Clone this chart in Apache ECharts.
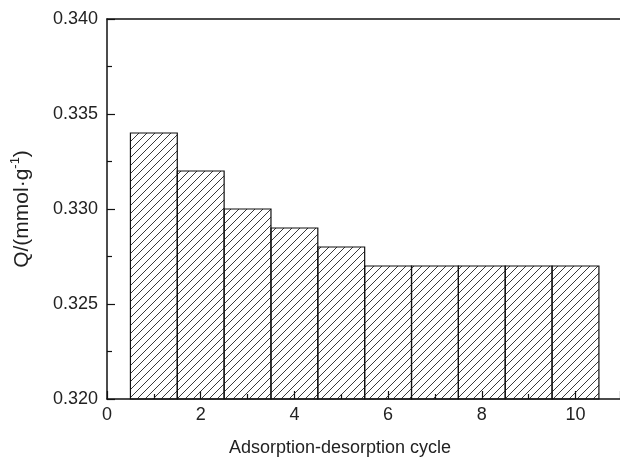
<!DOCTYPE html>
<html>
<head>
<meta charset="utf-8">
<script src="https://cdn.jsdelivr.net/npm/echarts@6/dist/echarts.min.js"></script>
<style>
html,body{margin:0;padding:0;background:#fff;}
#chart{width:620px;height:462px;}
</style>
</head>
<body>
<div id="chart"></div>
<script>
// Data
var cycles = [1, 2, 3, 4, 5, 6, 7, 8, 9, 10];
var capacity = [0.334, 0.332, 0.330, 0.329, 0.328, 0.327, 0.327, 0.327, 0.327, 0.327];
var yTicks = ['0.320', '0.325', '0.330', '0.335', '0.340'];
var xTicks = ['0', '2', '4', '6', '8', '10'];

// Hatch pattern tile
var tile = document.createElement('canvas');
tile.width = 8; tile.height = 8;
var c = tile.getContext('2d');
c.strokeStyle = '#222';
c.lineWidth = 0.9;
c.beginPath();
c.moveTo(0, 8); c.lineTo(8, 0);
c.moveTo(-1, 1); c.lineTo(1, -1);
c.moveTo(7, 9); c.lineTo(9, 7);
c.stroke();

var chart = echarts.init(document.getElementById('chart'), null, {renderer: 'canvas'});
var font = 'Liberation Sans, Arial, Helvetica, sans-serif';
var txt = '#222';

var option = {
  backgroundColor: '#fff',
  animation: false,
  grid: {left: 107, top: 19, right: 0, bottom: 59},
  xAxis: [{
    type: 'value', min: 0, max: 10.95, interval: 2,
    position: 'bottom',
    axisLine: {show: true, lineStyle: {color: '#111', width: 1.5}},
    axisTick: {show: true, inside: true, length: 8, lineStyle: {color: '#111', width: 1.2}},
    minorTick: {show: true, splitNumber: 2, length: 5, lineStyle: {color: '#111', width: 1.2}},
    splitLine: {show: false},
    axisLabel: {
      margin: 7, color: txt, fontFamily: font, fontSize: 18, showMaxLabel: false,
      formatter: function (v) { var s = String(v); return xTicks.indexOf(s) >= 0 ? s : ''; }
    },
    name: 'Adsorption-desorption cycle',
    nameLocation: 'middle', nameGap: 40,
    nameTextStyle: {color: txt, fontFamily: font, fontSize: 18, padding: [0, 0, 0, -47]}
  }, {
    type: 'value', min: 0, max: 10.95, position: 'top',
    axisLine: {show: true, lineStyle: {color: '#111', width: 1.5}},
    axisTick: {show: false}, axisLabel: {show: false}, splitLine: {show: false}
  }],
  yAxis: [{
    type: 'value', min: 0.320, max: 0.340, interval: 0.005,
    axisLine: {show: true, lineStyle: {color: '#111', width: 1.5}},
    axisTick: {show: true, inside: true, length: 8, lineStyle: {color: '#111', width: 1.2}},
    minorTick: {show: true, splitNumber: 2, length: 5, lineStyle: {color: '#111', width: 1.2}},
    splitLine: {show: false},
    axisLabel: {
      margin: 9, color: txt, fontFamily: font, fontSize: 18,
      formatter: function (v) { var s = v.toFixed(3); return yTicks.indexOf(s) >= 0 ? s : ''; }
    },
    name: '{a|Q/(mmol·g}{s|-1}{a|)}',
    nameLocation: 'middle', nameGap: 74, nameRotate: 90,
    nameTextStyle: {
      color: txt, fontFamily: font, fontSize: 21,
      rich: {
        a: {fontFamily: font, fontSize: 21, color: txt, lineHeight: 24, verticalAlign: 'bottom'},
        s: {fontFamily: font, fontSize: 13, color: txt, lineHeight: 24, verticalAlign: 'top'}
      }
    }
  }],
  series: [{
    type: 'custom',
    data: cycles.map(function (x, i) { return [x, capacity[i]]; }),
    renderItem: function (params, api) {
      var x = api.value(0), y = api.value(1);
      var p0 = api.coord([x - 0.5, y]);
      var p1 = api.coord([x + 0.5, 0.320]);
      return {
        type: 'rect',
        shape: {x: p0[0], y: p0[1], width: p1[0] - p0[0], height: p1[1] - p0[1]},
        style: {fill: {image: tile, repeat: 'repeat'}, stroke: '#111', lineWidth: 1.2}
      };
    }
  }]
};
chart.setOption(option);
</script>
</body>
</html>
